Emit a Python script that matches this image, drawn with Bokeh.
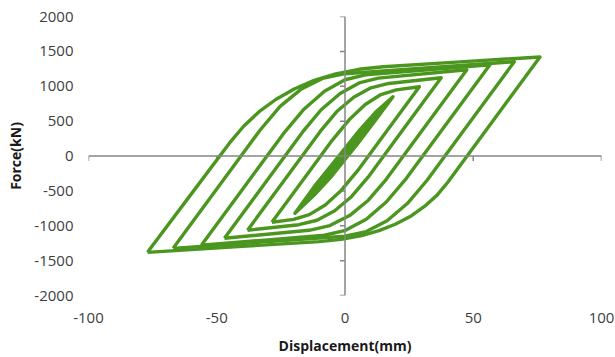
from bokeh.plotting import figure
from bokeh.models import Range1d, Span, FixedTicker, PrintfTickFormatter
from bokeh.embed import file_html
from bokeh.resources import INLINE

# ---- data (displacement mm, force kN) ----
x_ticks = [-100, -50, 0, 50, 100]
y_ticks = [-2000, -1500, -1000, -500, 0, 500, 1000, 1500, 2000]

L1_x = [-19.5, -12, -5, 0, 5, 12, 18.7, 12, 5, 0, -5, -12, -19.5]
L1_y = [-820, -440, -120, 110, 340, 630, 849, 520, 180, -50, -280, -560, -820]

L2_x = [-28.5, -15, -5, 1.6, 7.9, 14, 20, 29, 15, 5, -1.4, -7.7, -13.9, -20, -28.5]
L2_y = [-950, -275, 225, 519, 738, 881, 948, 993, 293, -207, -490, -702, -841, -908, -950]

L3_x = [-38, -20, -9.5, -3.2, 3.4, 10.1, 17, 37.5, 20, 9, 2.6, -4, -10.9, -18, -38]
L3_y = [-1065, -165, 360, 637, 842, 977, 1040, 1122, 247, -303, -580, -786, -921, -985, -1065]

L4_x = [-47, -30, -16.5, -9.3, -1.9, 5.5, 13, 47.5, 30, 16, 9.1, 1.8, -5.9, -14, -47]
L4_y = [-1180, -330, 345, 663, 897, 1048, 1116, 1237, 362, -338, -634, -854, -997, -1065, -1180]

L5_x = [-56, -40, -24, -16, -8, 0, 8, 30, 56.5, 40, 24, 16.2, 8.3, 0.2, -8, -30, -56]
L5_y = [-1280, -480, 320, 671, 929, 1093, 1164, 1230, 1309, 484, -316, -656, -906, -1066, -1136, -1202, -1280]

L6_x = [-67, -50, -33, -25.3, -17.2, -8.8, 0, 30, 66, 48, 32, 24.3, 16.4, 8.3, 0, -30, -67]
L6_y = [-1324, -474, 376, 711, 956, 1113, 1180, 1258, 1352, 452, -348, -682, -928, -1083, -1150, -1228, -1324]

L7_x = [-77, -61, -45, -39.6, -33.6, -27, -19.8, -12, -3.6, 5.4, 15, 45, 76,
        58, 40, 35.9, 31.1, 25.8, 19.8, 13.3, 6.1, -1.6, -10, -40, -77]
L7_y = [-1381, -597, 187, 423, 631, 810, 961, 1084, 1178, 1243, 1280, 1349, 1420,
        520, -380, -561, -720, -859, -975, -1070, -1144, -1196, -1227, -1296, -1381]

loops_x = [L2_x, L3_x, L4_x, L5_x, L6_x, L7_x]
loops_y = [L2_y, L3_y, L4_y, L5_y, L6_y, L7_y]

GREEN = "#4B961E"
AXIS = "#868686"
TEXT = "#404040"
FONT = "Open Sans"

p = figure(width=615, height=357, x_range=Range1d(-100, 100), y_range=Range1d(-2000, 2000),
           output_backend="svg", toolbar_location=None,
           min_border_left=88, min_border_right=14, min_border_top=16, min_border_bottom=62)
p.grid.visible = False
p.outline_line_color = None
p.background_fill_color = "white"
p.border_fill_color = "white"

# axis lines crossing at origin
p.add_layout(Span(location=0, dimension="width", line_color=AXIS, line_width=1.5))
p.add_layout(Span(location=0, dimension="height", line_color=AXIS, line_width=1.5))
# tick marks on the crossing axes
xt_len = 4000 / 279 * 5
yt_len = 200 / 513 * 5
p.segment(x0=x_ticks, y0=[0] * len(x_ticks), x1=x_ticks, y1=[-xt_len] * len(x_ticks),
          line_color=AXIS, line_width=1.5)
p.segment(x0=[0] * len(y_ticks), y0=y_ticks, x1=[-yt_len] * len(y_ticks), y1=y_ticks,
          line_color=AXIS, line_width=1.5)

# hysteresis loops
p.patch(L1_x, L1_y, fill_color=GREEN, line_color=GREEN, line_width=3.5, line_join="round")
for lx, ly in zip(loops_x, loops_y):
    p.line(lx, ly, line_color=GREEN, line_width=3.4, line_join="round")

# edge axes carrying only the labels
for ax in (p.xaxis, p.yaxis):
    ax.axis_line_color = None
    ax.major_tick_line_color = None
    ax.minor_tick_line_color = None
    ax.major_tick_out = 0
    ax.major_tick_in = 0
    ax.minor_tick_out = 0
    ax.major_label_text_font = FONT
    ax.major_label_text_font_size = "15px"
    ax.major_label_text_color = TEXT
    ax.formatter = PrintfTickFormatter(format="%d")
    ax.axis_label_text_font = FONT
    ax.axis_label_text_font_style = "bold"
    ax.axis_label_text_font_size = "14px"
    ax.axis_label_text_color = "#1a1a1a"
p.xaxis.ticker = FixedTicker(ticks=x_ticks)
p.yaxis.ticker = FixedTicker(ticks=y_ticks)
p.xaxis.major_label_standoff = 17
p.yaxis.major_label_standoff = 15

p.yaxis.axis_label = "Force(kN)"
p.yaxis.axis_label_standoff = 6
p.xaxis.axis_label = "Displacement(mm)"
p.xaxis.axis_label_standoff = 10

open("out.html", "w").write(file_html(p, INLINE))
